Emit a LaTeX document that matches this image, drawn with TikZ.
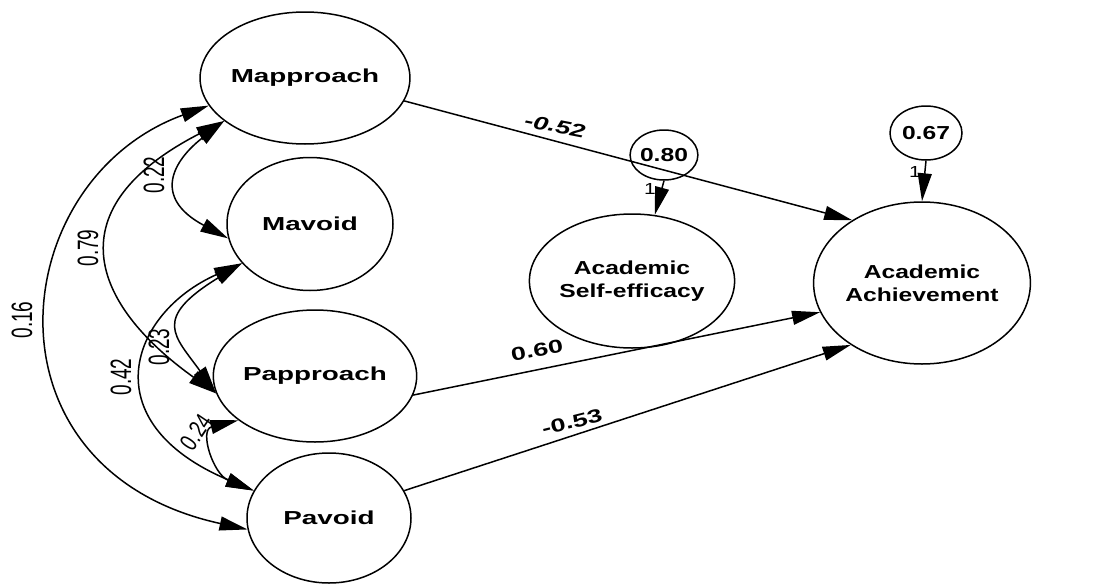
\documentclass[tikz,border=0pt]{standalone}
\usepackage{fontspec}
\usepackage{graphicx}
\setmainfont{Liberation Sans}
\newfontfamily\lfont[FakeStretch=1.48]{Liberation Sans}
\newfontfamily\rfont[FakeStretch=1.31]{Liberation Sans}
\newfontfamily\pfont[FakeStretch=1.45]{Liberation Sans}
\usetikzlibrary{shapes.geometric,arrows.meta}
\newcommand{\lftxt}{\lfont\bfseries\fontsize{18.8}{23}\selectfont}
\newcommand{\rgtxt}{\rfont\bfseries\fontsize{18.8}{23}\selectfont}
\newcommand{\pathtxt}{\pfont\bfseries\fontsize{18.6}{23}\selectfont}
\newcommand{\vlab}[1]{\scalebox{1}[1.55]{\fontsize{19}{19}\selectfont #1}}
\begin{document}
\begin{tikzpicture}[x=1pt,y=-1pt,line width=1.5pt,
  >={Triangle[length=28pt,width=14pt]},
  lat/.style={draw,ellipse,inner sep=0pt,align=center},
  lab/.style={inner sep=0pt}]
\useasboundingbox (0,0) rectangle (1096,584);
% latent nodes
\node[lat,minimum width=166pt,minimum height=132pt,font=\lftxt] (Mapp) at (305,78) {Mapproach};
\node[lat,minimum width=166pt,minimum height=133pt,font=\lftxt] (Mav) at (310,224) {Mavoid};
\node[lat,minimum width=164pt,minimum height=132pt,font=\lftxt] (Papp) at (315,376) {Papproach};
\node[lat,minimum width=164pt,minimum height=130pt,font=\lftxt] (Pav) at (329,518) {Pavoid};
\node[lat,minimum width=192pt,minimum height=134pt,font=\rgtxt] (ASE) at (632,281) {Academic\\Self-efficacy};
\node[lat,minimum width=200pt,minimum height=162pt,font=\rgtxt] (AA) at (922,283) {Academic\\Achievement};
\node[lat,minimum width=58pt,minimum height=50pt,font=\rgtxt] (e1) at (664,155) {0.80};
\node[lat,minimum width=72pt,minimum height=54pt,font=\rgtxt] (e2) at (926,133) {0.67};
% regression paths
\draw[->] (Mapp.-13) -- (AA.138);
\draw[->] (Papp.-11) -- (AA.196);
\draw[->] (Pav.20) -- (AA.221);
\draw[->] (e1.south) -- (ASE.71);
\draw[->] (e2.south) -- (AA.north);
% covariances
\draw[<->] (Mapp.196) .. controls (5,180) and (-25,470) .. (Pav.188);
\draw[<->] (Mapp.208) .. controls (55,208) and (90,303) .. (Papp.190);
\draw[<->] (Mapp.208) .. controls (174,160) and (151,197) .. (Mav.190);
\draw[<->] (Mav.210) .. controls (130,313) and (91,422) .. (Pav.160);
\draw[<->] (Mav.210) .. controls (151,319) and (175,336) .. (Papp.190);
\draw[<->] (Papp.210) .. controls (199,430) and (213,474) .. (Pav.160);
% labels
\node[lab,rotate=90] (l16) at (22,320) {\vlab{0.16}};
\node[lab,rotate=90] (l79) at (88,248) {\vlab{0.79}};
\node[lab,rotate=90] (l22) at (154,175) {\vlab{0.22}};
\node[lab,rotate=90] (l42) at (121,377) {\vlab{0.42}};
\node[lab,rotate=90] (l23) at (159,347) {\vlab{0.23}};
\node[lab,rotate=56] (l24) at (196,432) {\scalebox{1}[1.3]{\fontsize{19}{19}\selectfont 0.24}};
\node[lab,rotate=-11,font=\pathtxt\itshape] (l52) at (555,126) {-0.52};
\node[lab,rotate=11,font=\pathtxt] (l60) at (537,350) {0.60};
\node[lab,rotate=14,font=\pathtxt] (l53) at (572,422) {-0.53};
\node[lab,font=\rfont\fontsize{16}{16}\selectfont] (one1) at (650,189) {1};
\node[lab,font=\rfont\fontsize{16}{16}\selectfont] (one2) at (915,172) {1};
\end{tikzpicture}
\end{document}
